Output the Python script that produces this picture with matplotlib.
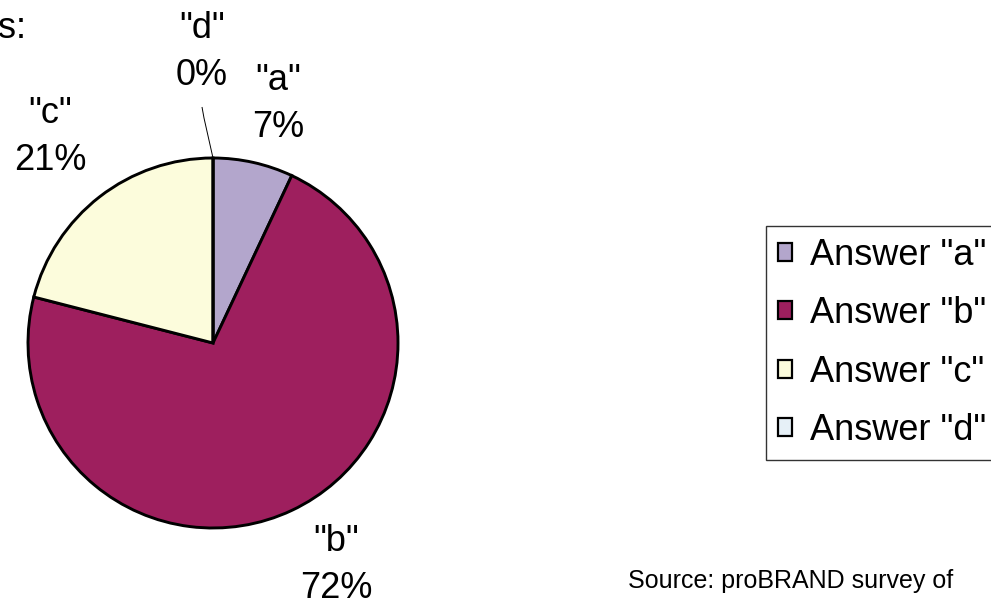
import numpy as np
import matplotlib
matplotlib.use("Agg")
import matplotlib.pyplot as plt
from matplotlib.patches import Patch

# ---- data ----
categories = ['"a"', '"b"', '"c"', '"d"']
values = [7, 72, 21, 0]
legend_labels = ['Answer "a"', 'Answer "b"', 'Answer "c"', 'Answer "d"']
colors = ['#B3A6CC', '#9E1F5E', '#FCFCDC', '#E6F0F7']
title_fragment = 's:'
source_text = 'Source: proBRAND survey of'

W, H = 991, 603
plt.rcParams['font.family'] = ['Liberation Sans', 'DejaVu Sans']

fig = plt.figure(figsize=(W / 100, H / 100), dpi=100)
ax = fig.add_axes([0, 0, 1, 1])

def Y(y):
    return H - y

cx, cy, r = 213, Y(343), 185
wedges, _ = ax.pie(values, colors=colors, startangle=90, counterclock=False,
                   center=(cx, cy), radius=r,
                   wedgeprops=dict(edgecolor='black', linewidth=2.1))
ax.set_xlim(0, W)
ax.set_ylim(0, H)
ax.set_aspect('equal')
ax.axis('off')

fs = 26
ls = 1.42
# data labels: category + percentage
label_pos = {0: (278, 104), 1: (336, 565), 2: (50, 137), 3: (202, 52)}
for i, (cat, v) in enumerate(zip(categories, values)):
    x, y = label_pos[i]
    ax.text(x, Y(y), f'{cat}\n{v}%', ha='center', va='center',
            fontsize=fs, linespacing=ls, color='black')

# leader line for the 0% slice
top_x = cx + r * np.cos(np.deg2rad(90))
top_y = cy + r * np.sin(np.deg2rad(90))
ax.plot([top_x, top_x - 9, top_x - 11], [top_y, Y(118), Y(107)],
        color='black', linewidth=0.7, solid_capstyle='butt')

# title fragment
ax.text(-2, Y(28), title_fragment, ha='left', va='center', fontsize=fs)

# source
ax.text(628, Y(581), source_text, ha='left', va='center', fontsize=18)

# legend
handles = [Patch(facecolor=c, edgecolor='black', linewidth=1.6) for c in colors]
leg = ax.legend(handles, legend_labels, loc='upper left',
                bbox_to_anchor=(766, Y(226)), bbox_transform=ax.transData,
                fontsize=26, frameon=True, fancybox=False, shadow=False,
                borderaxespad=0, borderpad=0.33, labelspacing=0.65,
                handlelength=0.39, handleheight=0.39, handletextpad=0.5)
leg.get_frame().set_edgecolor('#333333')
leg.get_frame().set_linewidth(1.0)
leg.get_frame().set_alpha(None)

fig.savefig('out.png', dpi=100)
